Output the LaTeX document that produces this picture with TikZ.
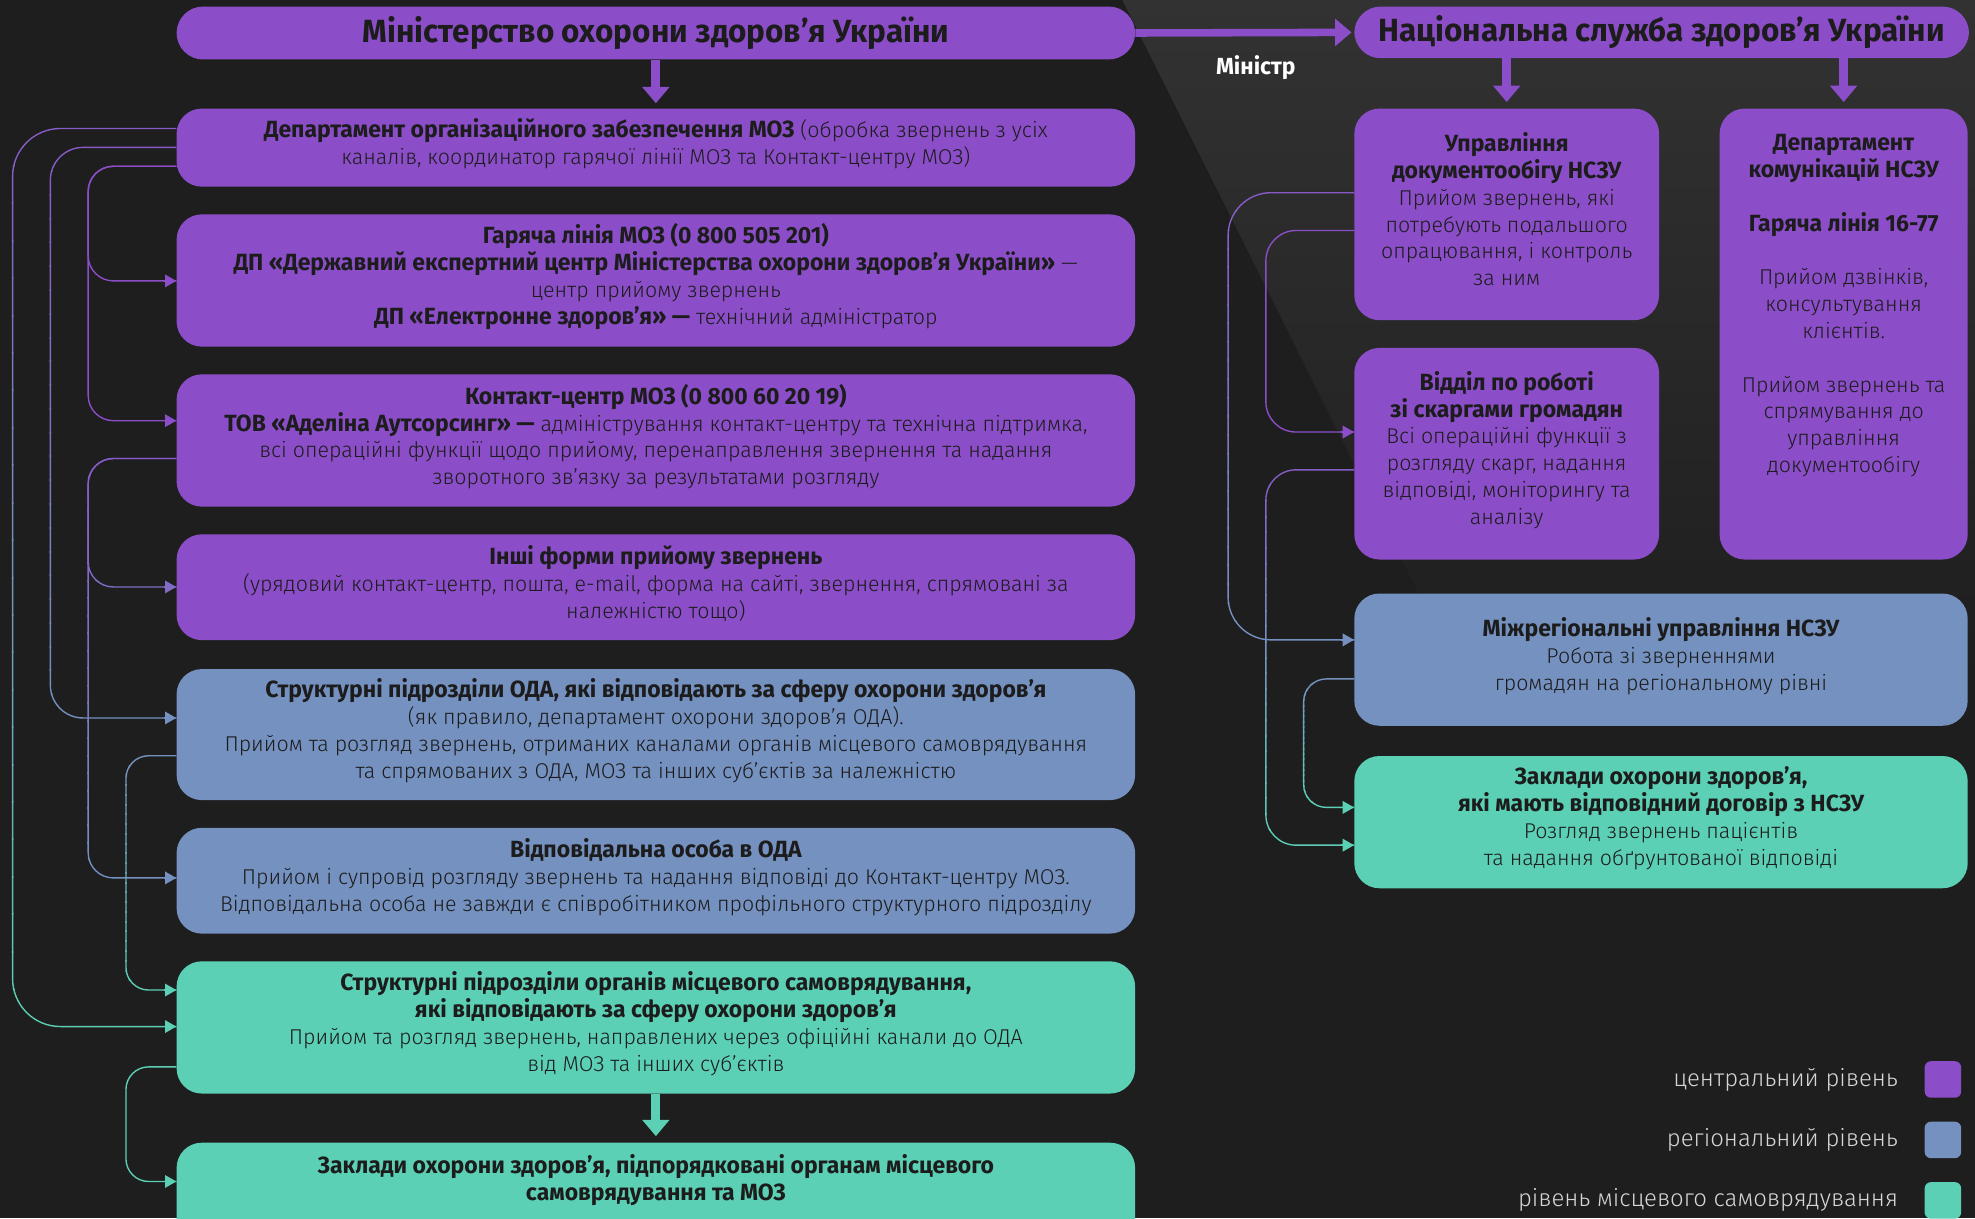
\documentclass[tikz,border=0pt]{standalone}
\usepackage{fontspec}
\setmainfont{Fira Sans Light}
\newfontfamily\bc{Fira Sans Bold}[FakeStretch=0.98]
\usetikzlibrary{arrows.meta}
\definecolor{bg}{HTML}{1E1E1E}
\definecolor{bgl}{HTML}{323232}
\definecolor{pur}{HTML}{8B4EC8}
\definecolor{blu}{HTML}{7491C0}
\definecolor{grn}{HTML}{5CD0B5}
\definecolor{ink}{HTML}{1C1C1C}
\definecolor{leg}{HTML}{D6D6D6}
\colorlet{mpur}{pur!82!blu}
\newcommand\B[1]{{\bc\fontsize{18.6}{21.3}\selectfont #1}}
% gradient connector: #1 ytop, #2 ybottom, #3 top colour, #4 bottom colour, #5 corner radius, #6 path
\newcommand\gline[6]{%
  \foreach \k in {0,...,23}{%
    \pgfmathsetmacro\ya{#1+(#2-#1)/24*\k-(\k==0)*80-0.4}%
    \pgfmathsetmacro\yb{#1+(#2-#1)/24*(\k+1)+(\k==23)*80+0.4}%
    \pgfmathsetmacro\pc{100-100/24*(\k+0.5)}%
    \begin{scope}
      \clip (-10,\ya) rectangle (1600,\yb);
      \draw[conn, rounded corners=#5, draw={#3!\pc!#4}] #6;
    \end{scope}}}
\begin{document}
\begin{tikzpicture}[x=1pt,y=-1pt,
  box/.style={rounded corners=20pt, anchor=north west, inner sep=0pt},
  txt/.style={align=center, inner sep=0pt, text=ink, font=\fontsize{17}{21.3}\selectfont},
  hdr/.style={rounded corners=21pt, anchor=north west, align=center, inner sep=0pt, text=ink, font=\bc\fontsize{25.5}{28}\selectfont},
  conn/.style={line width=1.1pt, rounded corners=20pt},
  tipc/.style={line width=1.1pt, -{Triangle[length=9pt,width=10pt]}},
  big/.style={line width=7pt, -{Triangle[length=13pt,width=21pt]}},
  legt/.style={anchor=east, text=leg, inner sep=0pt, font=\fontsize{19}{22}\selectfont},
  legsq/.style={rounded corners=5pt, minimum size=29pt, inner sep=0pt}]
\useasboundingbox (0,0) rectangle (1568,967);
\fill[bg] (0,0) rectangle (1568,967);
\shade[top color=bgl, bottom color=bg] (891,0) -- (1568,0) -- (1568,540) -- (1161,540) -- cycle;

% ---------- left column ----------
\node[hdr, fill=pur, minimum width=761pt, minimum height=42pt] (b1) at (140,5) {Міністерство охорони здоров’я України};
\node[box, fill=pur, minimum width=761pt, minimum height=62pt] (b2) at (140,86) {};
\node[txt] (b2t) at ([yshift=3pt]b2.center)
  {\B{Департамент організаційного забезпечення МОЗ} (обробка звернень з усіх\\ каналів, координатор гарячої лінії МОЗ та Контакт-центру МОЗ)};
\node[box, fill=pur, minimum width=761pt, minimum height=105pt] (b3) at (140,170) {};
\node[txt] (b3t) at ([yshift=3pt]b3.center)
  {\B{Гаряча лінія МОЗ (0 800 505 201)}\\
   \B{ДП «Державний експертний центр Міністерства охорони здоров’я України»} —\\
   центр прийому звернень\\
   \B{ДП «Електронне здоров’я» —} технічний адміністратор};
\node[box, fill=pur, minimum width=761pt, minimum height=105pt] (b4) at (140,297) {};
\node[txt] (b4t) at ([yshift=3pt]b4.center)
  {\B{Контакт-центр МОЗ (0 800 60 20 19)}\\
   \B{ТОВ «Аделіна Аутсорсинг» —} адміністрування контакт-центру та технічна підтримка,\\
   всі операційні функції щодо прийому, перенаправлення звернення та надання\\
   зворотного зв’язку за результатами розгляду};
\node[box, fill=pur, minimum width=761pt, minimum height=84pt] (b5) at (140,424) {};
\node[txt] (b5t) at ([yshift=3pt]b5.center)
  {\B{Інші форми прийому звернень}\\
   (урядовий контакт-центр, пошта, e-mail, форма на сайті, звернення, спрямовані за\\
   належністю тощо)};
\node[box, fill=blu, minimum width=761pt, minimum height=104pt] (b6) at (140,531) {};
\node[txt] (b6t) at ([yshift=3pt]b6.center)
  {\B{Структурні підрозділи ОДА, які відповідають за сферу охорони здоров’я}\\
   (як правило, департамент охорони здоров’я ОДА).\\
   Прийом та розгляд звернень, отриманих каналами органів місцевого самоврядування\\
   та спрямованих з ОДА, МОЗ та інших суб’єктів за належністю};
\node[box, fill=blu, minimum width=761pt, minimum height=84pt] (b7) at (140,657) {};
\node[txt] (b7t) at ([yshift=3pt]b7.center)
  {\B{Відповідальна особа в ОДА}\\
   Прийом і супровід розгляду звернень та надання відповіді до Контакт-центру МОЗ.\\
   Відповідальна особа не завжди є співробітником профільного структурного підрозділу};
\node[box, fill=grn, minimum width=761pt, minimum height=105pt] (b8) at (140,763) {};
\node[txt] (b8t) at ([yshift=3pt]b8.center)
  {\B{Структурні підрозділи органів місцевого самоврядування,}\\
   \B{які відповідають за сферу охорони здоров’я}\\
   Прийом та розгляд звернень, направлених через офіційні канали до ОДА\\
   від МОЗ та інших суб’єктів};
\node[box, fill=grn, minimum width=761pt, minimum height=80pt] (b9) at (140,907) {};
\node[txt] (b9t) at ([yshift=10pt]b9.center)
  {\B{Заклади охорони здоров’я, підпорядковані органам місцевого}\\
   \B{самоврядування та МОЗ}};

% ---------- right column ----------
\node[hdr, fill=pur, minimum width=488pt, minimum height=41pt] (h2) at (1075,5) {Національна служба здоров’я України};
\node[box, fill=pur, minimum width=242pt, minimum height=168pt] (r1) at (1075,86) {};
\node[txt] (r1t) at ([yshift=4pt]r1.center)
  {\B{Управління}\\ \B{документообігу НСЗУ}\\ Прийом звернень, які\\ потребують подальшого\\ опрацювання, і контроль\\ за ним};
\node[box, fill=pur, minimum width=197pt, minimum height=358pt] (r2) at (1365,86) {};
\node[txt, anchor=north] (r2t) at ([yshift=-20.5pt]r2.north)
  {\B{Департамент}\\ \B{комунікацій НСЗУ}\\[21.3pt] \B{Гаряча лінія 16-77}\\[21.3pt]
   Прийом дзвінків,\\ консультування\\ клієнтів.\\[21.3pt]
   Прийом звернень та\\ спрямування до\\ управління\\ документообігу};
\node[box, fill=pur, minimum width=242pt, minimum height=168pt] (r3) at (1075,276) {};
\node[txt] (r3t) at ([yshift=3pt]r3.center)
  {\B{Відділ по роботі}\\ \B{зі скаргами громадян}\\ Всі операційні функції з\\ розгляду скарг, надання\\ відповіді, моніторингу та\\ аналізу};
\node[box, fill=blu, minimum width=487pt, minimum height=105pt] (r4) at (1075,471) {};
\node[txt] (r4t) at ([yshift=3pt]r4.center)
  {\B{Міжрегіональні управління НСЗУ}\\ Робота зі зверненнями\\ громадян на регіональному рівні};
\node[box, fill=grn, minimum width=487pt, minimum height=105pt] (r5) at (1075,600) {};
\node[txt] (r5t) at ([yshift=3pt]r5.center)
  {\B{Заклади охорони здоров’я,}\\ \B{які мають відповідний договір з НСЗУ}\\ Розгляд звернень пацієнтів\\ та надання обґрунтованої відповіді};

% ---------- thick arrows ----------
\draw[big, pur] (b1.south) -- ([yshift=4pt]b2.north);
\draw[big, grn] (b8.south) -- ([yshift=5pt]b9.north);
\draw[big, pur, line width=6pt] (b1.east) -- ([xshift=-2pt]h2.west);
\draw[big, pur] (h2.south -| r1.north) -- ([yshift=5pt]r1.north);
\draw[big, pur] (h2.south -| r2.north) -- ([yshift=5pt]r2.north);
\node[text=white, font=\bc\fontsize{18.5}{20}\selectfont] (min) at (997,54) {Міністр};

% ---------- connector anchors ----------
\coordinate (xA) at (10,0);  \coordinate (xB) at (40,0);  \coordinate (xC) at (70,0);
\coordinate (xE) at (100,0); \coordinate (xG) at (975,0); \coordinate (xH) at (1005,0);
\coordinate (xJ) at (1035,0);
\coordinate (sA) at ([yshift=-16pt]b2.north west);
\coordinate (sB) at ([yshift=-31pt]b2.north west);
\coordinate (sC) at ([yshift=-46pt]b2.north west);
\coordinate (tC1) at ([yshift=-53pt]b3.north west);
\coordinate (tC2) at ([yshift=-37pt]b4.north west);
\coordinate (sD) at ([yshift=-67pt]b4.north west);
\coordinate (tD1) at ([yshift=-42pt]b5.north west);
\coordinate (tB) at ([yshift=-39pt]b6.north west);
\coordinate (sE) at ([yshift=-69pt]b6.north west);
\coordinate (tD2) at ([yshift=-40pt]b7.north west);
\coordinate (tE) at ([yshift=-23pt]b8.north west);
\coordinate (tA) at ([yshift=-52pt]b8.north west);
\coordinate (sF) at ([yshift=-84pt]b8.north west);
\coordinate (tF) at ([yshift=-31pt]b9.north west);
\coordinate (sG) at ([yshift=-67pt]r1.north west);
\coordinate (sH) at ([yshift=-97pt]r1.north west);
\coordinate (tH) at ([yshift=-67pt]r3.north west);
\coordinate (sI) at ([yshift=-97pt]r3.north west);
\coordinate (tG) at ([yshift=-37pt]r4.north west);
\coordinate (sJ) at ([yshift=-68pt]r4.north west);
\coordinate (tJ) at ([yshift=-41pt]r5.north west);
\coordinate (tI) at ([yshift=-71pt]r5.north west);

% ---------- connectors ----------
\gline{102}{815}{mpur}{grn}{38pt}{(sA) -| (xA |- tA) -- (tA)}
\gline{117}{570}{mpur}{blu}{26pt}{(sB) -| (xB |- tB) -- (tB)}
\draw[conn, pur] (sC) -| (xC |- tC1) -- (tC1);
\draw[conn, pur] (sC) -| (xC |- tC2) -- (tC2);
\gline{364}{697}{mpur}{blu}{20pt}{(sD) -| (xC |- tD1) -- (tD1)}
\gline{364}{697}{mpur}{blu}{20pt}{(sD) -| (xC |- tD2) -- (tD2)}
\gline{600}{786}{blu}{grn}{18pt}{(sE) -| (xE |- tE) -- (tE)}
\draw[conn, grn, rounded corners=18pt] (sF) -| (xE |- tF) -- (tF);
\gline{153}{508}{mpur}{blu}{34pt}{(sG) -| (xG |- tG) -- (tG)}
\draw[conn, pur, rounded corners=24pt] (sH) -| (xH |- tH) -- (tH);
\gline{373}{671}{mpur}{grn}{24pt}{(sI) -| (xH |- tI) -- (tI)}
\gline{539}{641}{blu}{grn}{18pt}{(sJ) -| (xJ |- tJ) -- (tJ)}

\draw[tipc, grn] ([xshift=-10pt]tA) -- (tA);
\draw[tipc, blu] ([xshift=-10pt]tB) -- (tB);
\draw[tipc, pur] ([xshift=-10pt]tC1) -- (tC1);
\draw[tipc, pur] ([xshift=-10pt]tC2) -- (tC2);
\draw[tipc, mpur!70!blu] ([xshift=-10pt]tD1) -- (tD1);
\draw[tipc, blu] ([xshift=-10pt]tD2) -- (tD2);
\draw[tipc, grn] ([xshift=-10pt]tE) -- (tE);
\draw[tipc, grn] ([xshift=-10pt]tF) -- (tF);
\draw[tipc, blu] ([xshift=-10pt]tG) -- (tG);
\draw[tipc, pur] ([xshift=-10pt]tH) -- (tH);
\draw[tipc, grn] ([xshift=-10pt]tI) -- (tI);
\draw[tipc, grn] ([xshift=-10pt]tJ) -- (tJ);

% ---------- legend ----------
\node[legsq, fill=pur] (l1) at (1542.5,857) {};
\node[legsq, fill=blu] (l2) at (1542.5,905) {};
\node[legsq, fill=grn] (l3) at (1542.5,953) {};
\node[legt] (lt1) at (1507,857) {центральний рівень};
\node[legt] (lt2) at (1507,905) {регіональний рівень};
\node[legt] (lt3) at (1507,953) {рівень місцевого самоврядування};
\end{tikzpicture}
\end{document}
